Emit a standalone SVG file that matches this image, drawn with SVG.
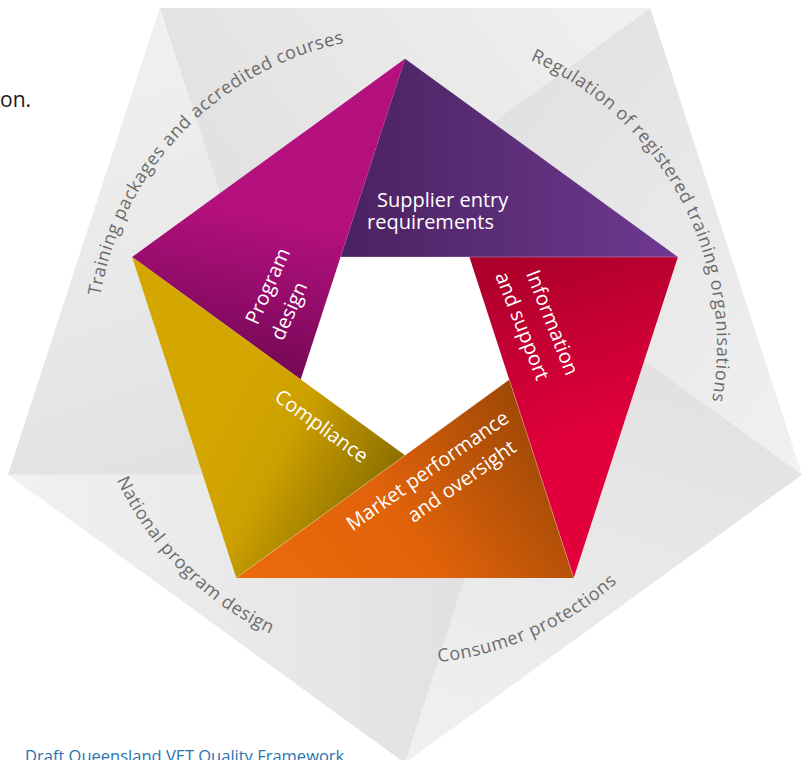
<svg xmlns="http://www.w3.org/2000/svg" width="808" height="760" viewBox="0 0 808 760">
<style>
  .lbl { font-family: "Open Sans", "Noto Sans", sans-serif; font-size: 20px; fill: #ffffff; }
  .arc { font-family: "Open Sans", "Noto Sans", sans-serif; font-size: 18px; fill: #6b6b6b; letter-spacing: 0.6px; }
  .seam { stroke: #ffffff; stroke-opacity: 0.35; stroke-width: 0.8; fill: none; }
</style>
<defs>
  <linearGradient id="gTop" gradientUnits="userSpaceOnUse" x1="253.4" y1="296.4" x2="650.3" y2="8"><stop offset="0" stop-color="#e0e0e0"/><stop offset="1" stop-color="#f1f1f1"/></linearGradient>
  <linearGradient id="gRight" gradientUnits="userSpaceOnUse" x1="405" y1="186.3" x2="802" y2="474.7"><stop offset="0" stop-color="#e0e0e0"/><stop offset="1" stop-color="#f1f1f1"/></linearGradient>
  <linearGradient id="gBR" gradientUnits="userSpaceOnUse" x1="556.6" y1="296.4" x2="405" y2="763.1"><stop offset="0" stop-color="#e0e0e0"/><stop offset="1" stop-color="#f1f1f1"/></linearGradient>
  <linearGradient id="gBL" gradientUnits="userSpaceOnUse" x1="498.7" y1="474.7" x2="8" y2="474.7"><stop offset="0" stop-color="#e0e0e0"/><stop offset="1" stop-color="#f1f1f1"/></linearGradient>
  <linearGradient id="gLeft" gradientUnits="userSpaceOnUse" x1="311.3" y1="474.7" x2="159.7" y2="8"><stop offset="0" stop-color="#e0e0e0"/><stop offset="1" stop-color="#f1f1f1"/></linearGradient>

  <linearGradient id="cPurple" gradientUnits="userSpaceOnUse" x1="340.6" y1="257" x2="677.9" y2="257"><stop offset="0" stop-color="#4a2261"/><stop offset="1" stop-color="#6f3990"/></linearGradient>
  <linearGradient id="cMagenta" gradientUnits="userSpaceOnUse" x1="300" y1="380" x2="330" y2="230"><stop offset="0" stop-color="#740855"/><stop offset="1" stop-color="#b4107e"/></linearGradient>
  <linearGradient id="cRed" gradientUnits="userSpaceOnUse" x1="469.4" y1="257" x2="573.7" y2="577.9"><stop offset="0" stop-color="#a8002a"/><stop offset="0.6" stop-color="#e0003a"/><stop offset="1" stop-color="#e3003c"/></linearGradient>
  <linearGradient id="cOrange" gradientUnits="userSpaceOnUse" x1="509.3" y1="379.6" x2="236.3" y2="577.9"><stop offset="0" stop-color="#9e4806"/><stop offset="0.5" stop-color="#e0620a"/><stop offset="1" stop-color="#ec6b0a"/></linearGradient>
  <linearGradient id="cGold" gradientUnits="userSpaceOnUse" x1="400" y1="470" x2="230" y2="380"><stop offset="0" stop-color="#8a6e00"/><stop offset="0.6" stop-color="#cca000"/><stop offset="1" stop-color="#d4a700"/></linearGradient>

  <path id="pTL" d="M 107.0 431.1 A 312 312 0 0 1 480.0 44.9"/>
  <path id="pTR" d="M 415.8 33.9 A 312 312 0 0 1 669.6 511.0"/>
  <path id="pBL" d="M 88.2 373.4 A 318 318 0 0 0 377.3 662.5"/>
  <path id="pBR" d="M 317.4 651.4 A 318 318 0 0 0 690.8 485.1"/>
</defs>

<rect width="808" height="760" fill="#ffffff"/>

<text x="0" y="107" font-family="Open Sans, Noto Sans, sans-serif" font-size="21" fill="#1a1a1a">on.</text>

<g id="outer">
  <g id="flap-top"><polygon points="159.7,8 650.3,8 253.4,296.4" fill="url(#gTop)"/></g>
  <g id="flap-right"><polygon points="650.3,8 802,474.7 405,186.3" fill="url(#gRight)"/></g>
  <g id="flap-bottom-right"><polygon points="802,474.7 405,763.1 556.6,296.4" fill="url(#gBR)"/></g>
  <g id="flap-bottom-left"><polygon points="405,763.1 8,474.7 498.7,474.7" fill="url(#gBL)"/></g>
  <g id="flap-left"><polygon points="8,474.7 159.7,8 311.3,474.7" fill="url(#gLeft)"/></g>
</g>

<g id="outer-labels">
  <g id="training-packages"><text class="arc"><textPath href="#pTL" startOffset="50%" text-anchor="middle">Training packages and accredited courses</textPath></text></g>
  <g id="regulation"><text class="arc"><textPath href="#pTR" startOffset="50%" text-anchor="middle">Regulation of registered training organisations</textPath></text></g>
  <g id="national-program-design"><text class="arc"><textPath href="#pBL" startOffset="50%" text-anchor="middle">National program design</textPath></text></g>
  <g id="consumer-protections"><text class="arc"><textPath href="#pBR" startOffset="50%" text-anchor="middle">Consumer protections</textPath></text></g>
</g>

<g id="supplier-entry">
  <polygon points="405,58.7 677.9,257 340.6,257" fill="url(#cPurple)"/>
  <text class="lbl" x="377" y="207">Supplier entry</text>
  <text class="lbl" x="367" y="228.5">requirements</text>
</g>
<g id="program-design">
  <polygon points="132.1,257 405,58.7 300.7,379.6" fill="url(#cMagenta)"/>
  <text class="lbl" text-anchor="middle" transform="translate(274,288.7) rotate(-66)">Program</text>
  <text class="lbl" text-anchor="middle" transform="translate(295.3,313.7) rotate(-66)">design</text>
</g>
<g id="information-support">
  <polygon points="677.9,257 573.7,577.9 469.4,257" fill="url(#cRed)"/>
  <text class="lbl" text-anchor="middle" transform="translate(546,325) rotate(68.5)">Information</text>
  <text class="lbl" text-anchor="middle" transform="translate(516,328.5) rotate(68.5)">and support</text>
</g>
<g id="market-performance">
  <polygon points="573.7,577.9 236.3,577.9 509.3,379.6" fill="url(#cOrange)"/>
  <text class="lbl" text-anchor="middle" transform="translate(431.5,476.2) rotate(-35)">Market performance</text>
  <text class="lbl" text-anchor="middle" transform="translate(465.5,486.8) rotate(-35)">and oversight</text>
</g>
<g id="compliance">
  <polygon points="236.3,577.9 132.1,257 405,455.3" fill="url(#cGold)"/>
  <text class="lbl" text-anchor="middle" transform="translate(317.5,431.7) rotate(36)">Compliance</text>
</g>

<g id="connectors">
  <line class="seam" x1="340.6" y1="257" x2="677.9" y2="257"/>
  <line class="seam" x1="236.3" y1="577.9" x2="509.3" y2="379.6"/>
  <line class="seam" x1="509.3" y1="379.6" x2="573.7" y2="577.9"/>
</g>

<text x="25" y="762" font-family="Open Sans, Noto Sans, sans-serif" font-size="16.5" fill="#2a73b0">Draft Queensland VET Quality Framework</text>
</svg>
